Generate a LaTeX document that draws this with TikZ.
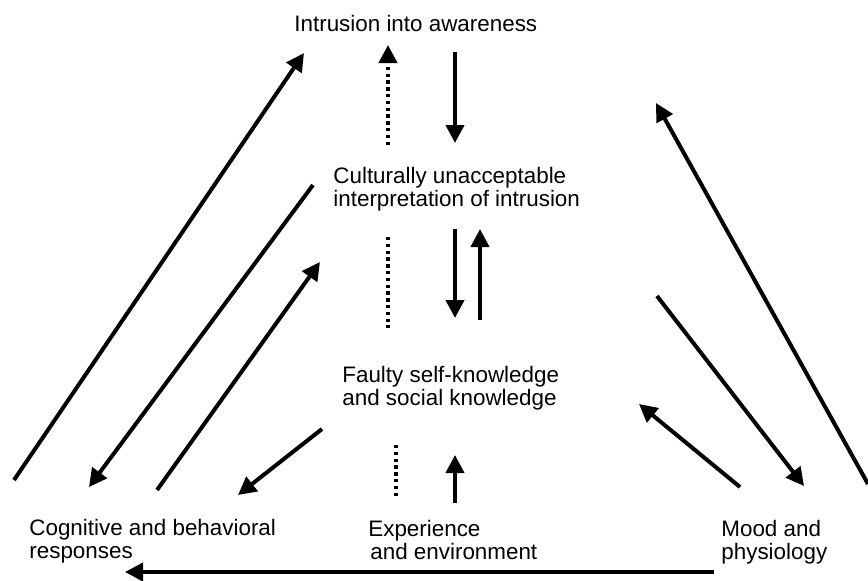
\documentclass[tikz,border=0pt]{standalone}
\usepackage{fontspec}
\setmainfont{Liberation Sans}
\usetikzlibrary{arrows.meta}

\begin{document}
\begin{tikzpicture}[x=0.5pt,y=-0.5pt,
  lbl/.style={anchor=north west,inner sep=0pt,align=left,font=\fontsize{11.2}{11.5}\selectfont},
  arr/.style={line width=2pt,-{Triangle[length=9pt,width=9pt]}},
  dots/.style={line width=2pt,dash pattern=on 1.7pt off 1.7pt}]
  \useasboundingbox (0,0) rectangle (868,580);

  % Labels
  \node[lbl] (intrusion) at (294,15) {Intrusion into awareness};
  \node[lbl] (interp) at (333,167) {Culturally unacceptable\\interpretation of intrusion};
  \node[lbl] (faulty) at (342,366) {Faulty self-knowledge\\and social knowledge};
  \node[lbl] (responses) at (29,519) {Cognitive and behavioral\\responses};
  \node[lbl] (experience) at (368,520) {Experience\\\hspace*{1pt}and environment};
  \node[lbl] (mood) at (721,520) {Mood and\\physiology};

  % Arrow ends
  \coordinate (respOut) at (14,480);   \coordinate (intrIn) at (304,53);
  \coordinate (interpOut) at (313,185); \coordinate (respIn) at (89,487);
  \coordinate (respOut2) at (157,490); \coordinate (interpIn) at (320,262);
  \coordinate (faultyOut) at (322,429); \coordinate (respIn2) at (238,495);
  \coordinate (moodOut) at (868,484);  \coordinate (intrIn2) at (656,103);
  \coordinate (interpOut2) at (657,296); \coordinate (moodIn) at (804,486);
  \coordinate (moodOut2) at (740,487); \coordinate (faultyIn) at (639,404);
  \coordinate (moodOut3) at (714,572); \coordinate (respIn3) at (125,572);

  % Center column
  \draw[arr,dots] (388,145) -- (388,45);
  \draw[arr] (455,52) -- (455,143);
  \draw[dots] (388,237) -- (388,328);
  \draw[arr] (455,229) -- (455,318);
  \draw[arr] (480,320) -- (480,229);
  \draw[dots] (396,445) -- (396,497);
  \draw[arr] (455,503) -- (455,455);

  % Left side
  \draw[arr] (respOut) -- (intrIn);
  \draw[arr] (interpOut) -- (respIn);
  \draw[arr] (respOut2) -- (interpIn);
  \draw[arr] (faultyOut) -- (respIn2);

  % Right side
  \draw[arr] (moodOut) -- (intrIn2);
  \draw[arr] (interpOut2) -- (moodIn);
  \draw[arr] (moodOut2) -- (faultyIn);

  % Bottom
  \draw[arr] (moodOut3) -- (respIn3);
\end{tikzpicture}
\end{document}
